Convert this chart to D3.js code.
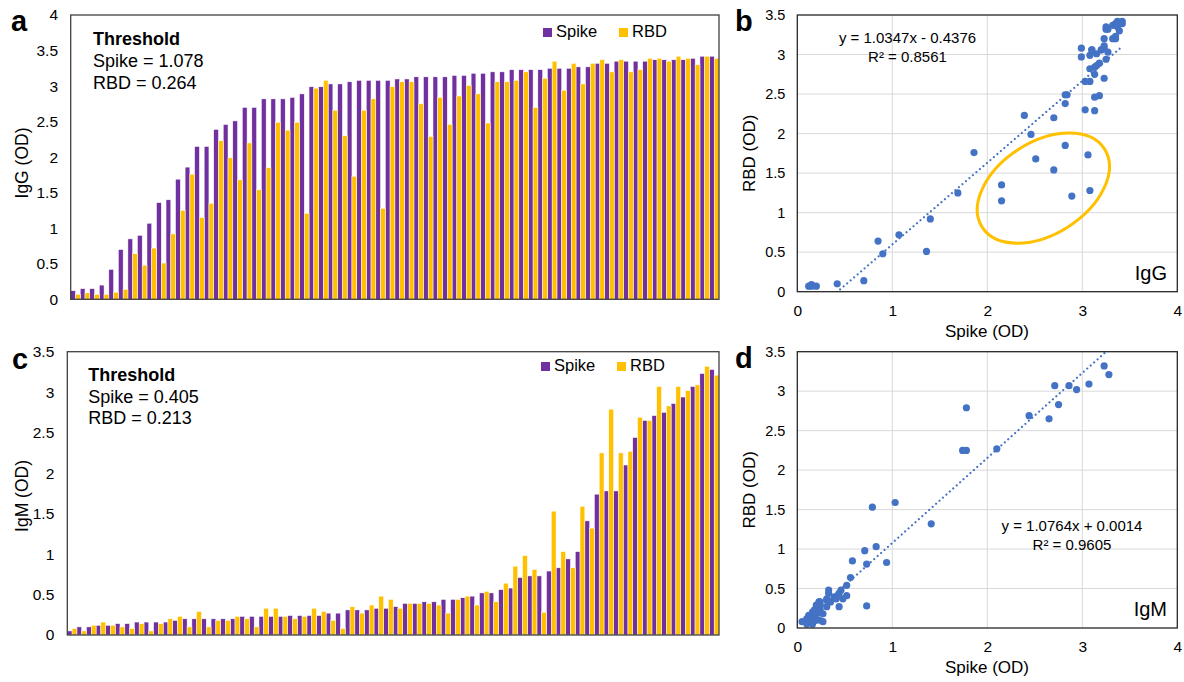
<!DOCTYPE html>
<html><head><meta charset="utf-8">
<script src="https://cdn.jsdelivr.net/npm/d3@7"></script>
<style>
body{margin:0;background:#fff;}
text{font-family:"Liberation Sans",Arial,Helvetica,sans-serif;fill:#000;}
</style>
</head><body>
<svg id="chart" width="1184" height="682"></svg>
<script>
// ---------- data ----------
const samples = d3.range(1, 69);
const seriesNames = ["Spike", "RBD"];

const iggSpike = [0.12,0.15,0.15,0.20,0.42,0.70,0.85,0.90,1.07,1.36,1.40,1.69,1.86,2.15,2.15,2.39,2.46,2.51,2.70,2.70,
  2.82,2.82,2.82,2.84,2.89,2.99,2.99,3.03,3.03,3.06,3.08,3.08,3.08,3.08,3.10,3.10,3.13,3.13,3.13,3.13,
  3.15,3.15,3.18,3.18,3.20,3.20,3.23,3.23,3.23,3.23,3.25,3.25,3.25,3.27,3.27,3.32,3.32,3.35,3.35,3.35,
  3.35,3.37,3.37,3.37,3.37,3.39,3.42,3.42];
const iggRbd = [0.07,0.09,0.07,0.07,0.10,0.14,0.64,0.48,0.72,0.51,0.92,1.25,1.76,1.15,1.35,2.23,1.99,1.68,2.20,1.54,
  1.85,2.49,2.38,2.49,1.21,2.97,3.08,2.66,2.30,1.73,2.66,2.82,1.28,2.99,3.06,3.06,2.75,2.29,2.84,2.46,
  2.86,3.01,2.89,2.48,3.06,3.06,3.08,3.20,2.70,3.11,3.35,2.94,3.32,3.03,3.32,3.37,3.20,3.37,3.20,3.23,
  3.39,3.39,3.35,3.42,3.39,3.30,3.42,3.39];

const igmSpike = [0.05,0.10,0.10,0.12,0.12,0.14,0.14,0.16,0.16,0.16,0.16,0.18,0.20,0.20,0.20,0.20,0.20,0.20,0.23,0.23,
  0.23,0.23,0.23,0.24,0.24,0.24,0.24,0.27,0.27,0.31,0.31,0.31,0.33,0.33,0.35,0.39,0.39,0.41,0.41,0.44,
  0.44,0.46,0.48,0.52,0.52,0.56,0.58,0.71,0.73,0.73,0.79,0.83,0.94,1.03,1.41,1.74,1.78,1.78,2.10,2.44,
  2.65,2.71,2.75,2.86,2.94,3.07,3.23,3.28];
const igmRbd = [0.08,0.05,0.12,0.16,0.12,0.10,0.08,0.14,0.05,0.14,0.20,0.23,0.10,0.29,0.10,0.18,0.18,0.23,0.20,0.10,
  0.33,0.33,0.23,0.20,0.23,0.33,0.29,0.18,0.08,0.35,0.27,0.37,0.48,0.44,0.33,0.39,0.39,0.39,0.37,0.27,
  0.44,0.48,0.37,0.54,0.41,0.64,0.85,0.98,0.81,0.28,1.53,1.03,0.83,1.59,1.32,2.25,2.79,2.25,2.27,2.69,
  2.65,3.07,2.83,3.07,3.02,3.09,3.32,3.21];

const iggTicks = [0,0.5,1,1.5,2,2.5,3,3.5,4];
const igmTicks = [0,0.5,1,1.5,2,2.5,3,3.5];
const scatterXTicks = [0,1,2,3,4];
const scatterYTicks = [0,0.5,1,1.5,2,2.5,3,3.5];

const iggThreshold = ["Spike = 1.078", "RBD = 0.264"];
const igmThreshold = ["Spike = 0.405", "RBD = 0.213"];
const iggFit = [1.0347, -0.4376];
const igmFit = [1.0764, 0.0014];
const iggFitText = ["y = 1.0347x - 0.4376", "R\u00B2 = 0.8561"];
const igmFitText = ["y = 1.0764x + 0.0014", "R\u00B2 = 0.9605"];

// ---------- styles ----------
const PURPLE = "#7030A0", GOLD = "#FFC000", BLUE = "#4472C4";
const svg = d3.select("#chart");
svg.append("rect").attr("width",1184).attr("height",682).attr("fill","#fff");

function styleAxis(g, size){
  g.select(".domain").remove();
  g.selectAll("text").attr("font-size", size).attr("font-family", '"Liberation Sans",Arial,sans-serif').attr("fill","#000");
}

function panelLetter(ch, x, y){
  svg.append("text").attr("x",x).attr("y",y).attr("font-size",29).attr("font-weight","bold").text(ch);
}

// ---------- bar panels ----------
function barPanel(o){
  const x = d3.scaleBand().domain(samples).range([o.x0, o.x1]).padding(0);
  const sub = d3.scaleBand().domain(seriesNames).range([0, x.bandwidth()]).padding(0);
  const y = d3.scaleLinear().domain([0, o.max]).range([o.y1, o.y0]);
  const g = svg.append("g");
  const rows = samples.map((s,i)=>({s, Spike:o.spike[i], RBD:o.rbd[i]}));
  seriesNames.forEach((name, k)=>{
    g.selectAll(null).data(rows).enter().append("rect")
      .attr("x", d=>x(d.s)+sub(name))
      .attr("width", sub.bandwidth())
      .attr("y", d=>y(d[name]))
      .attr("height", d=>y(0)-y(d[name]))
      .attr("fill", k===0?PURPLE:GOLD)
      .attr("stroke","#fff").attr("stroke-width",0.5);
  });
  // frame
  g.append("rect").attr("x",o.x0).attr("y",o.y0).attr("width",o.x1-o.x0).attr("height",o.y1-o.y0)
    .attr("fill","none").attr("stroke","#404040").attr("stroke-width",1.3);
  const ax = g.append("g").attr("transform",`translate(${o.x0},0)`)
    .call(d3.axisLeft(y).tickValues(o.ticks).tickSize(0).tickPadding(o.pad).tickFormat(d=>String(d)));
  styleAxis(ax, 15.5);
  svg.append("text").attr("transform",`translate(${o.titleX},${o.titleY}) rotate(-90)`)
    .attr("text-anchor","middle").attr("font-size",17.5).text(o.title);
  // threshold text
  svg.append("text").attr("x",o.tx).attr("y",o.ty).attr("font-size",18).attr("font-weight","bold").text("Threshold");
  o.thr.forEach((t,i)=>svg.append("text").attr("x",o.tx).attr("y",o.ty+21.8*(i+1)).attr("font-size",18).text(t));
  // legend
  const lg = [[o.lx, PURPLE, "Spike"], [o.lx+76, GOLD, "RBD"]];
  lg.forEach(([lx,c,t])=>{
    svg.append("rect").attr("x",lx).attr("y",o.ly-8.5).attr("width",9).attr("height",9).attr("fill",c);
    svg.append("text").attr("x",lx+13).attr("y",o.ly+0.5).attr("font-size",16.5).text(t);
  });
}

barPanel({x0:70.7,x1:719,y0:15,y1:299.3,max:4,spike:iggSpike,rbd:iggRbd,ticks:iggTicks,pad:12.7,
  title:"IgG (OD)",titleX:28,titleY:163,tx:93,ty:45,thr:iggThreshold,lx:543,ly:36.5});
barPanel({x0:67.3,x1:719,y0:351.7,y1:635,max:3.5,spike:igmSpike,rbd:igmRbd,ticks:igmTicks,pad:13,
  title:"IgM (OD)",titleX:28,titleY:496,tx:88.3,ty:380.7,thr:igmThreshold,lx:541,ly:370.5});

// ---------- scatter panels ----------
let clipId = 0;
function scatterPanel(o){
  const x = d3.scaleLinear().domain([0,4]).range([797.3, 1177.3]);
  const y = d3.scaleLinear().domain([0,3.5]).range([o.y1, o.y0]);
  const g = svg.append("g");
  // grid
  g.selectAll(null).data(scatterXTicks.filter(v=>v>0&&v<4)).enter().append("line")
    .attr("x1",d=>x(d)).attr("x2",d=>x(d)).attr("y1",o.y0).attr("y2",o.y1)
    .attr("stroke","#d9d9d9").attr("stroke-width",1);
  g.selectAll(null).data(scatterYTicks.filter(v=>v>0&&v<3.5)).enter().append("line")
    .attr("y1",d=>y(d)).attr("y2",d=>y(d)).attr("x1",x(0)).attr("x2",x(4))
    .attr("stroke","#d9d9d9").attr("stroke-width",1);
  const id = "clip"+(clipId++);
  svg.append("clipPath").attr("id",id).append("rect")
    .attr("x",x(0)).attr("y",o.y0).attr("width",x(4)-x(0)).attr("height",o.y1-o.y0);
  // points
  const pts = o.xs.map((v,i)=>[v,o.ys[i]]);
  g.selectAll(null).data(pts).enter().append("circle")
    .attr("cx",d=>x(d[0])).attr("cy",d=>y(d[1])).attr("r",3.6).attr("fill",BLUE);
  // trendline
  const xmin = d3.min(o.xs), xmax = d3.max(o.xs);
  g.append("line").attr("clip-path",`url(#${id})`)
    .attr("x1",x(xmin)).attr("y1",y(o.fit[0]*xmin+o.fit[1]))
    .attr("x2",x(xmax)).attr("y2",y(o.fit[0]*xmax+o.fit[1]))
    .attr("stroke",BLUE).attr("stroke-width",2.2).attr("stroke-linecap","round")
    .attr("stroke-dasharray","0.01 4.6");
  // frame
  g.append("rect").attr("x",x(0)).attr("y",o.y0).attr("width",x(4)-x(0)).attr("height",o.y1-o.y0)
    .attr("fill","none").attr("stroke","#262626").attr("stroke-width",1.3);
  const ay = g.append("g").attr("transform",`translate(${x(0)},0)`)
    .call(d3.axisLeft(y).tickValues(scatterYTicks).tickSize(0).tickPadding(12).tickFormat(d=>String(d)));
  styleAxis(ay, 14.5);
  const axx = g.append("g").attr("transform",`translate(0,${o.y1})`)
    .call(d3.axisBottom(x).tickValues(scatterXTicks).tickSize(0).tickPadding(13).tickFormat(d=>String(d)));
  styleAxis(axx, 15.5);
  svg.append("text").attr("x",987).attr("y",o.y1+45).attr("text-anchor","middle").attr("font-size",17).text("Spike (OD)");
  svg.append("text").attr("transform",`translate(755,${(o.y0+o.y1)/2}) rotate(-90)`)
    .attr("text-anchor","middle").attr("font-size",17).text("RBD (OD)");
  // equation
  o.eq.forEach((t,i)=>svg.append("text").attr("x",o.eqX).attr("y",o.eqY+19*i)
    .attr("text-anchor","middle").attr("font-size",15).text(t));
  svg.append("text").attr("x",1167).attr("y",o.y1-11.7).attr("text-anchor","end").attr("font-size",20).text(o.tag);
  return {x,y};
}

const sb = scatterPanel({y0:15,y1:291.7,xs:iggSpike,ys:iggRbd,fit:iggFit,eq:iggFitText,eqX:907.5,eqY:42.7,tag:"IgG"});
// highlighted cluster
svg.append("ellipse")
  .attr("transform",`translate(${sb.x(2.59)},${sb.y(1.31)}) rotate(-32.5)`)
  .attr("rx",72.6).attr("ry",46).attr("fill","none").attr("stroke",GOLD).attr("stroke-width",3);

scatterPanel({y0:351.7,y1:628,xs:igmSpike,ys:igmRbd,fit:igmFit,eq:igmFitText,eqX:1072,eqY:530.7,tag:"IgM"});

panelLetter("a", 11, 31);
panelLetter("b", 735, 31);
panelLetter("c", 12, 369);
panelLetter("d", 735, 368);
</script>
</body></html>
